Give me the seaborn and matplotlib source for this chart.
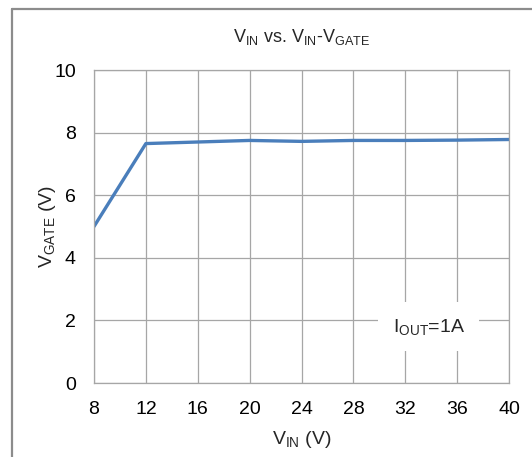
import matplotlib
matplotlib.use("Agg")
import matplotlib.pyplot as plt
from matplotlib.lines import Line2D
import seaborn as sns
import pandas as pd

# data
vin = [8, 12, 16, 20, 24, 28, 32, 36, 40]
vgate = [5.0, 7.65, 7.7, 7.75, 7.72, 7.75, 7.75, 7.76, 7.78]
x_ticks = [8, 12, 16, 20, 24, 28, 32, 36, 40]
y_ticks = [0, 2, 4, 6, 8, 10]

df = pd.DataFrame({"vin": vin, "vgate": vgate})

sns.set_theme(style="white")
plt.rcParams["font.family"] = ["Liberation Sans Narrow", "Liberation Sans", "DejaVu Sans"]
plt.rcParams["mathtext.default"] = "regular"

fig = plt.figure(figsize=(5.32, 4.57), dpi=100)
ax = fig.add_axes([0.1767, 0.1619, 0.7801, 0.6849])

sns.lineplot(data=df, x="vin", y="vgate", ax=ax, color="#4A7EBB", linewidth=2.4)

ax.set_xlim(8, 40)
ax.set_ylim(0, 10)
ax.set_xticks(x_ticks)
ax.set_yticks(y_ticks)
ax.grid(True, color="#A6A6A6", linewidth=0.9)
for s in ax.spines.values():
    s.set_color("#A6A6A6")
    s.set_linewidth(0.9)
ax.tick_params(axis="x", labelsize=14, length=0, pad=13, colors="black")
ax.tick_params(axis="y", labelsize=14, length=0, pad=13, colors="black")

ax.set_xlabel(r"$V_{IN}$ (V)", fontsize=14, labelpad=8)
ax.set_ylabel(r"$V_{GATE}$ (V)", fontsize=14, labelpad=-3)
ax.set_title(r"$V_{IN}$ vs. $V_{IN}$-$V_{GATE}$", fontsize=13, pad=20)

ax.text(33.8, 1.8, r"$I_{OUT}$=1A", fontsize=14, ha="center", va="center",
        bbox=dict(facecolor="white", edgecolor="none", boxstyle="square,pad=0.75"))

# outer frame lines (left and top)
fig.add_artist(Line2D([12 / 532, 12 / 532], [0, 1 - 9 / 457], color="#8C8C8C", linewidth=1.6))
fig.add_artist(Line2D([12 / 532, 1], [1 - 9 / 457, 1 - 9 / 457], color="#8C8C8C", linewidth=1.6))

fig.savefig("out.png", dpi=100)
